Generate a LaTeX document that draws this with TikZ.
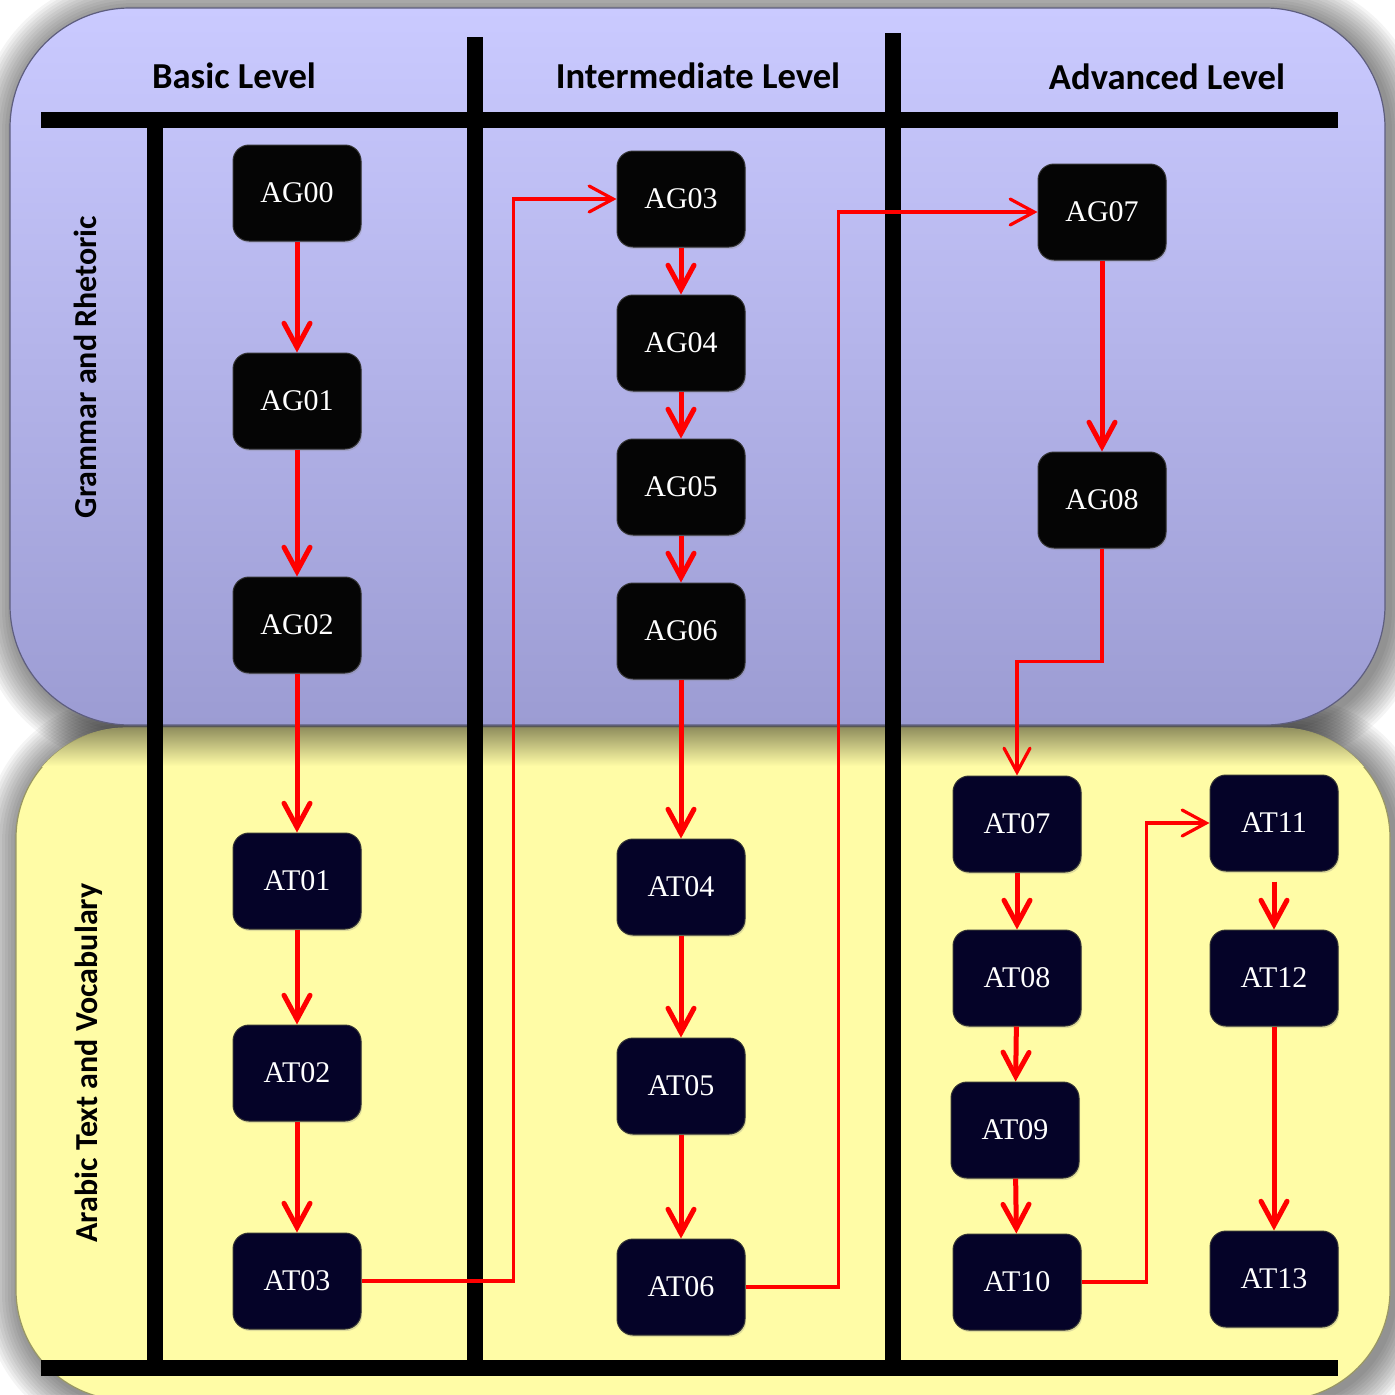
\documentclass[tikz,border=0pt]{standalone}
\usepackage{fontspec}
\setmainfont{Liberation Serif}
\newfontfamily\hdfont{Carlito}
\usetikzlibrary{arrows.meta,shadows}
\definecolor{paneltop}{RGB}{202,202,255}
\definecolor{panelbot}{RGB}{156,156,211}
\definecolor{panelyel}{RGB}{255,252,166}
\definecolor{atfill}{RGB}{5,3,40}

\begin{document}
\begin{tikzpicture}[x=0.5pt,y=-0.5pt,
  n/.style={rectangle,rounded corners=8pt,minimum width=64pt,minimum height=48pt,inner sep=0pt,draw=black!80,line width=0.5pt,text=white,font=\fontsize{15pt}{18pt}\selectfont,drop shadow={opacity=0.25,shadow xshift=0.6pt,shadow yshift=-1pt}},
  agbox/.style={n,fill=black!98},
  atbox/.style={n,fill=atfill},
  e/.style={draw,red,line width=2.5pt,-{Straight Barb[length=12pt,width=13pt,line cap=round]}},
  f/.style={e,line width=1.6pt},
  bar/.style={draw,black,line width=8pt},
  hd/.style={font=\hdfont\bfseries\fontsize{18.3pt}{22pt}\selectfont},
  sd/.style={font=\hdfont\bfseries\fontsize{16pt}{20pt}\selectfont,rotate=90}]

\useasboundingbox (0,0) rectangle (1395,1394);
\begin{scope}
\clip (0,0) rectangle (1395,1394);
\fill[white] (0,0) rectangle (1395,1394);
\foreach \i in {1,...,12}{
  \fill[black,opacity=0.045,rounded corners=60pt+1.5*\i pt] ({10-3*\i+4},{8-3*\i+4}) rectangle ({1385+3*\i+4},{725+3*\i+4});
  \fill[black,opacity=0.045,rounded corners=55pt+1.5*\i pt] ({16-3*\i+4},{728-3*\i+4}) rectangle ({1390+3*\i+4},{1400+3*\i+4});
}
\path[fill=panelyel,draw=panelyel!60!black,line width=0.6pt,rounded corners=55pt] (16,728) rectangle (1390,1400);
\begin{scope}
\clip[rounded corners=55pt] (16,728) rectangle (1390,1400);
\shade[top color=panelyel!55!black,bottom color=panelyel] (0,726) rectangle (1395,766);
\end{scope}
\shade[top color=paneltop,bottom color=panelbot,rounded corners=60pt] (10,8) rectangle (1385,725);
\draw[panelbot!60!black,line width=0.6pt,rounded corners=60pt] (10,8) rectangle (1385,725);
\end{scope}

\draw[bar] (41,120) -- (1338,120);
\draw[bar] (155,120) -- (155,1368);
\draw[bar] (474.5,37) -- (474.5,1368);
\draw[bar] (892.5,33) -- (892.5,1368);
\draw[bar] (41,1368) -- (1338,1368);

\node[hd] (basic) at (234,76) {Basic Level};
\node[hd] (inter) at (698,76) {Intermediate Level};
\node[hd] (adv) at (1167,77) {Advanced Level};
\node[sd] (gram) at (85,367) {Grammar and Rhetoric};
\node[sd] (vocab) at (89,1063) {Arabic Text and Vocabulary};

\node[agbox] (AG00) at (297,193) {AG00};
\node[agbox] (AG01) at (297,401) {AG01};
\node[agbox] (AG02) at (297,625) {AG02};
\node[atbox] (AT01) at (297,881) {AT01};
\node[atbox] (AT02) at (297,1073) {AT02};
\node[atbox] (AT03) at (297,1281) {AT03};
\node[agbox] (AG03) at (681,199) {AG03};
\node[agbox] (AG04) at (681,343) {AG04};
\node[agbox] (AG05) at (681,487) {AG05};
\node[agbox] (AG06) at (681,631) {AG06};
\node[atbox] (AT04) at (681,887) {AT04};
\node[atbox] (AT05) at (681,1086) {AT05};
\node[atbox] (AT06) at (681,1287) {AT06};
\node[agbox] (AG07) at (1102,212) {AG07};
\node[agbox] (AG08) at (1102,500) {AG08};
\node[atbox] (AT07) at (1017,824) {AT07};
\node[atbox] (AT08) at (1017,978) {AT08};
\node[atbox] (AT09) at (1015,1130) {AT09};
\node[atbox] (AT10) at (1017,1282) {AT10};
\node[atbox] (AT11) at (1274,823) {AT11};
\node[atbox] (AT12) at (1274,978) {AT12};
\node[atbox] (AT13) at (1274,1279) {AT13};

\path[e] (AG00) -- (AG01);
\path[e] (AG01) -- (AG02);
\path[e] (AG02) -- (AT01);
\path[e] (AT01) -- (AT02);
\path[e] (AT02) -- (AT03);
\path[f] (AT03.east) -- ++(152,0) |- (AG03.west);
\path[e] (AG03) -- (AG04);
\path[e] (AG04) -- (AG05);
\path[e] (AG05) -- (AG06);
\path[e] (AG06) -- (AT04);
\path[e] (AT04) -- (AT05);
\path[e] (AT05) -- (AT06);
\path[f] (AT06.east) -- ++(93,0) |- (AG07.west);
\path[e] (AG07) -- (AG08);
\path[f] (AG08.south) -- ++(0,113) -| (AT07.north);
\path[e] (AT07) -- (AT08);
\path[e] (AT08) -- (AT09);
\path[e] (AT09) -- (AT10);
\path[f] (AT10.east) -- ++(65,0) |- (AT11.west);
\path[e,shorten <=5pt] (AT11) -- (AT12);
\path[e] (AT12) -- (AT13);

\end{tikzpicture}
\end{document}
